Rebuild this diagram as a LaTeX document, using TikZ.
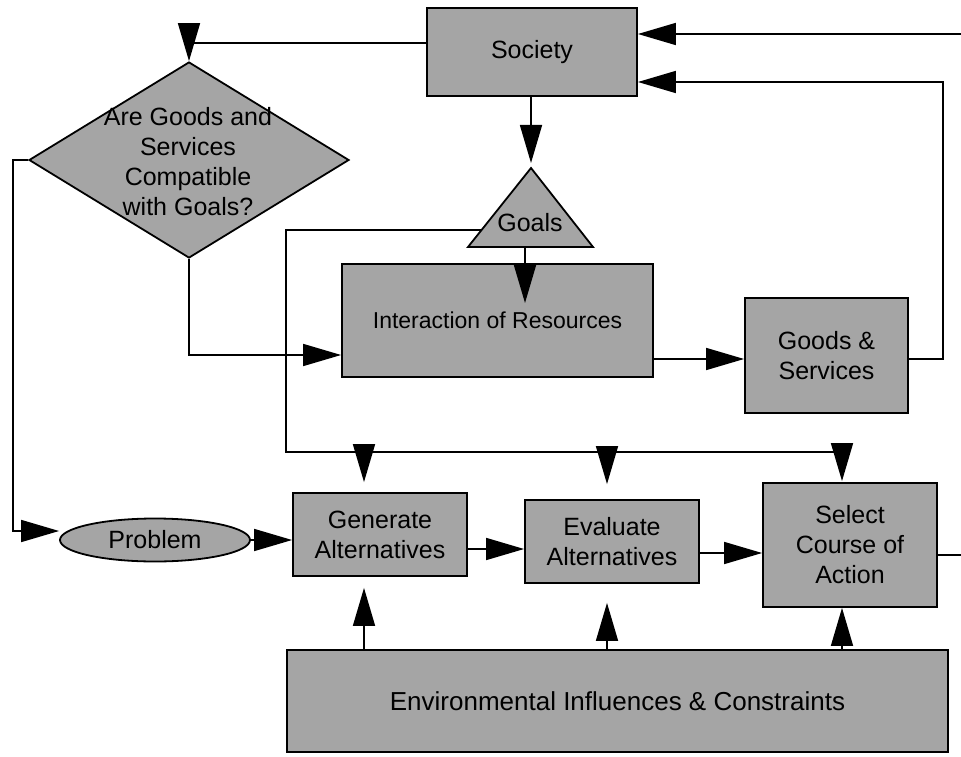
\documentclass[tikz,border=0pt]{standalone}
\usepackage{fontspec}
\setmainfont{Liberation Sans}
\usetikzlibrary{arrows.meta,shapes.geometric}
\definecolor{screen}{RGB}{165,165,165}
\begin{document}
\begin{tikzpicture}[x=1pt,y=-1pt,
  txt/.style={font=\fontsize{25pt}{30pt}\selectfont,align=center},
  box/.style={draw,line width=1.8pt,fill=screen,inner sep=0pt,txt},
  wire/.style={line width=1.6pt},
  arr/.style={wire,-{Triangle[length=38pt,width=22pt]}},
]
\useasboundingbox (0,0) rectangle (961,757);

% ---- shapes ----
\node[box,minimum width=210pt,minimum height=88pt] (society) at (532,52) {Society};

\node[draw,line width=1.8pt,fill=screen,diamond,inner sep=0pt,
      minimum width=320pt,minimum height=196pt] (q) at (189,160) {};
\node[txt] (qtext) at (188,162) {Are Goods and\\Services\\Compatible\\with Goals?};

\coordinate (gapex) at (531,168);
\coordinate (gbl) at (468,247);
\coordinate (gbr) at (593,247);
\draw[line width=1.8pt,fill=screen,line join=miter] (gapex) -- (gbl) -- (gbr) -- cycle;
\node[txt] (goals) at (530,223) {Goals};
\coordinate (gleft) at (481,230);
\coordinate (gbase) at (525,247);
\coordinate (gin) at (525,303);

\node[box,minimum width=311pt,minimum height=113pt,
      font=\fontsize{23pt}{28pt}\selectfont] (inter) at (497.5,320.5) {Interaction of Resources};
\node[box,minimum width=163pt,minimum height=115pt] (goods) at (826.5,355.5) {Goods \&\\Services};

\node[box,ellipse,minimum width=190pt,minimum height=43pt] (problem) at (155,540) {Problem};
\node[box,minimum width=174pt,minimum height=83pt] (generate) at (380,534.5) {Generate\\Alternatives};
\node[box,minimum width=174pt,minimum height=83pt] (evaluate) at (612,541.5) {Evaluate\\Alternatives};
\node[box,minimum width=174pt,minimum height=124pt] (select) at (850,545) {Select\\Course of\\Action};
\node[box,minimum width=661pt,minimum height=102pt,
      font=\fontsize{26pt}{30pt}\selectfont] (env) at (617.5,701) {Environmental Influences \& Constraints};

% ---- connectors ----
\coordinate (outT) at (961,34);
\coordinate (outR) at (961,555);
\coordinate (gsr) at (943,82);
\coordinate (rail) at (13,531);
\coordinate (bus0) at (286,452);
\coordinate (busG) at (364,452);
\coordinate (busE) at (607,452);
\coordinate (busS) at (842,452);

\draw[arr] (outT) -- (outT -| society.east);
\draw[arr] ([yshift=-3.5pt]goods.east) -| (gsr) -- (gsr -| society.east);
\draw[arr] ([yshift=9pt]society.west) -| (q.north);
\draw[arr,shorten >=5pt] (society.south -| gapex) -- (gapex);
\draw[arr] (gbase) -- (gin);

\draw[arr] (q.south) |- ([yshift=-34.5pt]inter.west);
\draw[arr] ([yshift=-38.5pt]inter.east) -- ([yshift=-38.5pt]inter.east -| goods.west);

\draw[wire] (gleft) -| (bus0) -- (busS);
\draw[arr,shorten >=10pt] (busG) -- (busG |- generate.north);
\draw[arr,shorten >=15pt] (busE) -- (busE |- evaluate.north);
\draw[arr,shorten >=1pt] (busS) -- (busS |- select.north);

\draw[arr] (q.west) -| (rail) -- ([yshift=9pt]problem.west);
\draw[arr] (problem.east) -- (problem.east -| generate.west);
\draw[arr] ([yshift=-14.5pt]generate.east) -- ([yshift=-14.5pt]generate.east -| evaluate.west);
\draw[arr] ([yshift=-11.5pt]evaluate.east) -- ([yshift=-11.5pt]evaluate.east -| select.west);
\draw[wire] (select.east |- outR) -- (outR);

\draw[arr,shorten >=11pt] (env.north -| busG) -- (busG |- generate.south);
\draw[arr,shorten >=19pt] (env.north -| busE) -- (busE |- evaluate.south);
\draw[arr] (env.north -| busS) -- (busS |- select.south);
\end{tikzpicture}
\end{document}
